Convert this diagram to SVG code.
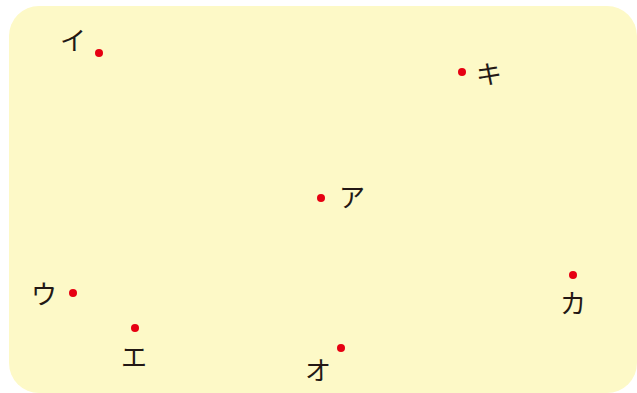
<svg xmlns="http://www.w3.org/2000/svg" width="637" height="393" viewBox="0 0 637 393">
<style>
.dot{fill:#e60012}
.lbl{font-family:"Noto Sans CJK JP","Noto Sans CJK SC",sans-serif;font-size:26px;fill:#231815;text-anchor:middle;dominant-baseline:central}
</style>
<rect x="9" y="6" width="628" height="387" rx="30" ry="30" fill="#fdf9c7"/>
<g id="node-i"><circle class="dot" cx="99" cy="53" r="4"/><text class="lbl" x="73" y="38">イ</text></g>
<g id="node-ki"><circle class="dot" cx="462" cy="72" r="4"/><text class="lbl" x="489" y="72">キ</text></g>
<g id="node-a"><circle class="dot" cx="321" cy="198" r="4"/><text class="lbl" x="352" y="195">ア</text></g>
<g id="node-u"><circle class="dot" cx="73" cy="293" r="4"/><text class="lbl" x="44" y="292">ウ</text></g>
<g id="node-e"><circle class="dot" cx="135" cy="328" r="4"/><text class="lbl" x="134" y="355">エ</text></g>
<g id="node-o"><circle class="dot" cx="341" cy="348" r="4"/><text class="lbl" x="318" y="368">オ</text></g>
<g id="node-ka"><circle class="dot" cx="573" cy="275" r="4"/><text class="lbl" x="573" y="301">カ</text></g>
<g id="connectors"/>
</svg>
